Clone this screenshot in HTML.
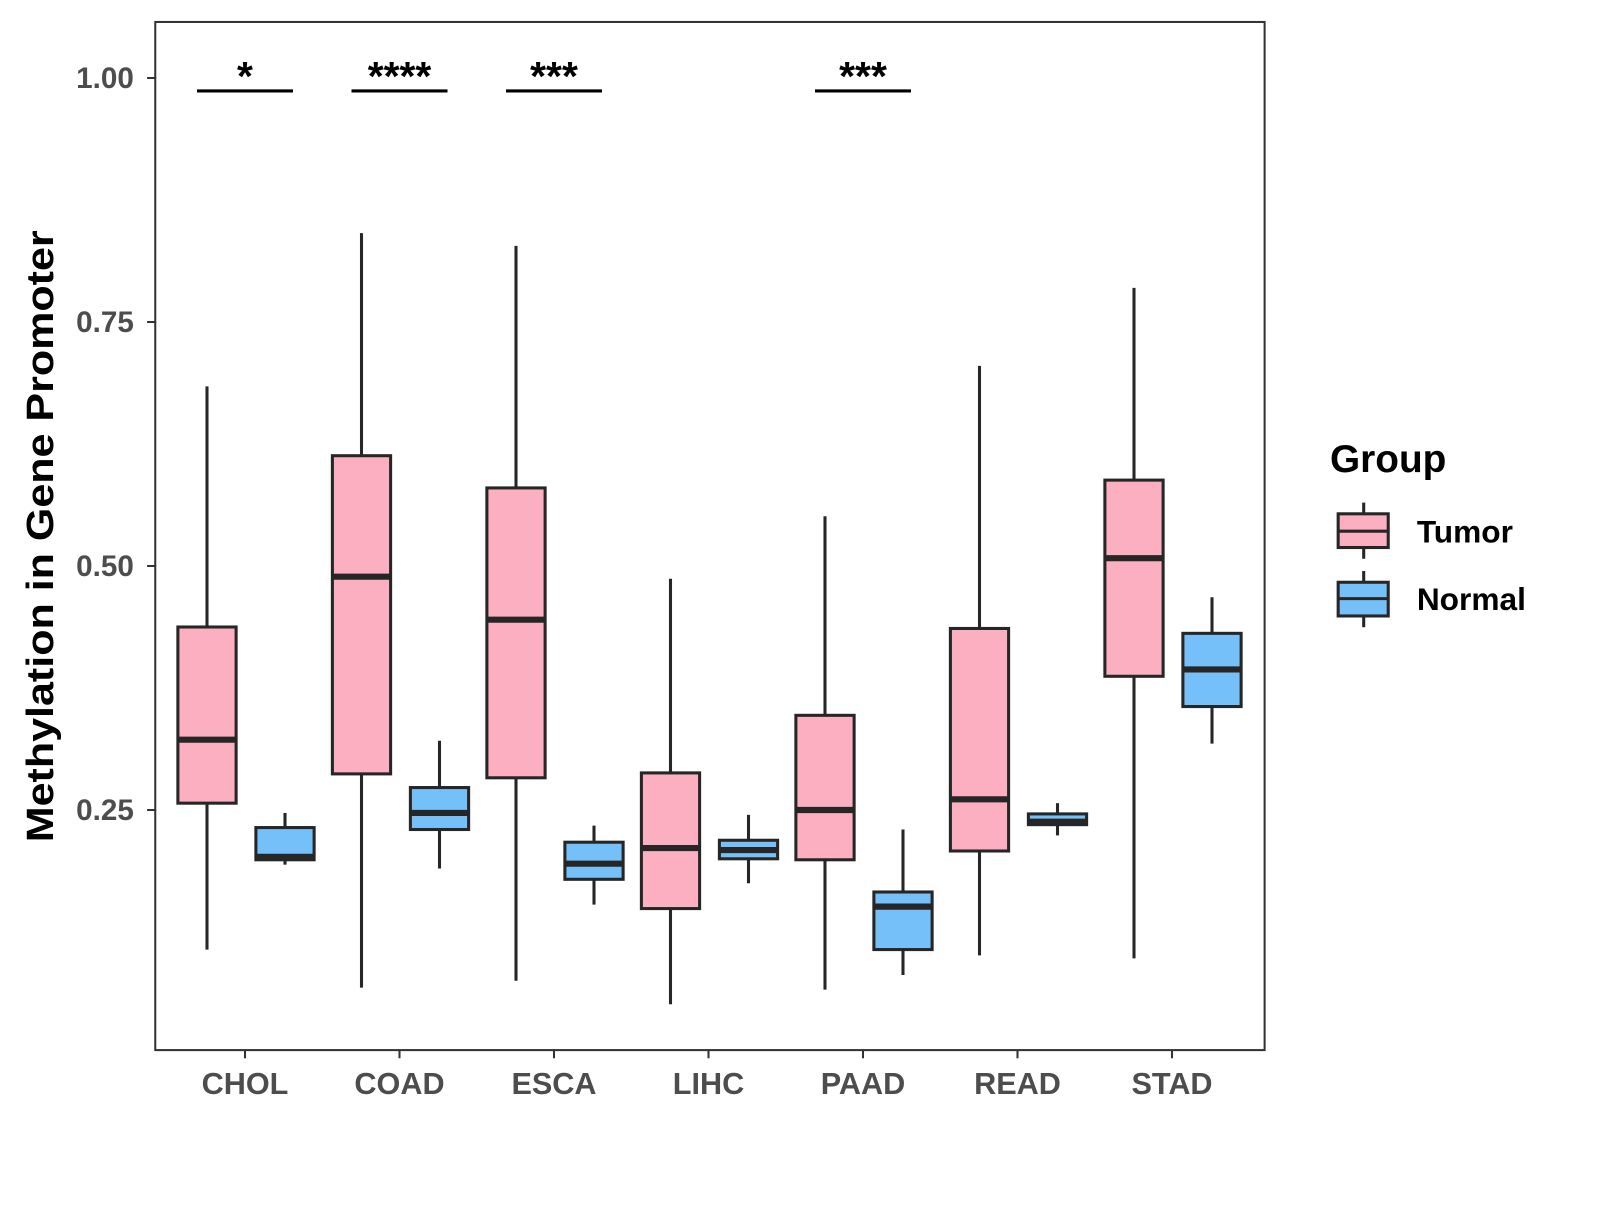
<!DOCTYPE html>
<html><head><meta charset="utf-8"><style>
body{margin:0;background:#fff;}
svg text{font-family:"Liberation Sans",Arial,sans-serif;font-weight:bold;}
</style></head><body>
<svg id="chart" width="1600" height="1200" viewBox="0 0 1600 1200" xmlns="http://www.w3.org/2000/svg">
<rect x="0" y="0" width="1600" height="1200" fill="#fff"/>
<g transform="scale(1.0215)">
<rect x="152" y="21.5" width="1086" height="1006.5" fill="none" stroke="#333" stroke-width="2"/>
<g id="marks"></g>
<text transform="translate(52,525) rotate(-90)" text-anchor="middle" font-size="37" textLength="599" lengthAdjust="spacingAndGlyphs" fill="#000">Methylation in Gene Promoter</text>
<text x="1302" y="462" font-size="38" fill="#000">Group</text>
<g>
<line x1="1335" y1="492" x2="1335" y2="547" stroke="#262626" stroke-width="3"/>
<rect x="1310" y="503" width="49" height="33" fill="#FBAFC1" stroke="#262626" stroke-width="3"/>
<line x1="1310" y1="520" x2="1359" y2="520" stroke="#262626" stroke-width="3"/>
<text x="1387" y="531" font-size="31" fill="#000">Tumor</text>
</g>
<g>
<line x1="1335" y1="559" x2="1335" y2="614" stroke="#262626" stroke-width="3"/>
<rect x="1310" y="570" width="49" height="33" fill="#75C0F8" stroke="#262626" stroke-width="3"/>
<line x1="1310" y1="586" x2="1359" y2="586" stroke="#262626" stroke-width="3"/>
<text x="1387" y="597" font-size="31" fill="#000">Normal</text>
</g>
</g>
</svg>
<script>
const categories=["CHOL","COAD","ESCA","LIHC","PAAD","READ","STAD"];
const tumorLow=[0.107,0.068,0.075,0.051,0.066,0.101,0.098];
const tumorQ1=[0.257,0.287,0.283,0.149,0.199,0.208,0.387];
const tumorMed=[0.322,0.489,0.445,0.211,0.250,0.261,0.508];
const tumorQ3=[0.4375,0.613,0.580,0.288,0.347,0.436,0.588];
const tumorHigh=[0.684,0.841,0.828,0.487,0.551,0.705,0.785];
const normalLow=[0.194,0.190,0.153,0.175,0.081,0.224,0.318];
const normalQ1=[0.199,0.230,0.179,0.200,0.107,0.235,0.356];
const normalMed=[0.202,0.247,0.195,0.209,0.151,0.238,0.394];
const normalQ3=[0.232,0.273,0.217,0.219,0.166,0.246,0.431];
const normalHigh=[0.247,0.321,0.234,0.245,0.230,0.257,0.468];
const sigLabels=["*","****","***","","***","",""];
const yTicks=[0.25,0.50,0.75,1.00];
const yTickLabels=["0.25","0.50","0.75","1.00"];

const NS="http://www.w3.org/2000/svg";
const g=document.getElementById("marks");
const S=1/1.0215;
function y(v){return (78+(1-v)*976)*S;}
function xc(i){return (245+i*154.5)*S;}
function mk(tag,attrs,parent){const e=document.createElementNS(NS,tag);for(const k in attrs)e.setAttribute(k,attrs[k]);(parent||g).appendChild(e);return e;}

yTicks.forEach((t,i)=>{
  const l=mk("line",{x1:144,x2:152,y1:y(t),y2:y(t),stroke:"#333","stroke-width":2});
  
  
  const tx=mk("text",{x:131,y:y(t)+10,"text-anchor":"end","font-size":29,fill:"#4d4d4d"});
  tx.textContent=yTickLabels[i];
  
  
});
categories.forEach((c,i)=>{
  const x=xc(i);
  const l=mk("line",{x1:x,x2:x,y1:1028,y2:1036,stroke:"#333","stroke-width":2});
  
  
  const tx=mk("text",{x:x,y:1071,"text-anchor":"middle","font-size":30,fill:"#4d4d4d"});
  tx.textContent=c;
  
  
});
function box(cx,lo,q1,md,q3,hi,fill,name){
  const grp=mk("g",{});
  
  
  mk("line",{x1:cx,x2:cx,y1:y(hi),y2:y(lo),stroke:"#262626","stroke-width":3},grp);
  mk("rect",{x:cx-28.5,y:y(q3),width:57,height:y(q1)-y(q3),fill:fill,stroke:"#262626","stroke-width":3},grp);
  mk("line",{x1:cx-28.5,x2:cx+28.5,y1:y(md),y2:y(md),stroke:"#262626","stroke-width":6},grp);
}
categories.forEach((c,i)=>{
  box(xc(i)-38*S,tumorLow[i],tumorQ1[i],tumorMed[i],tumorQ3[i],tumorHigh[i],"#FBAFC1","box-tumor-"+c.toLowerCase());
  box(xc(i)+40*S,normalLow[i],normalQ1[i],normalMed[i],normalQ3[i],normalHigh[i],"#75C0F8","box-normal-"+c.toLowerCase());
  if(sigLabels[i]){
    const l=mk("line",{x1:xc(i)-47,x2:xc(i)+47,y1:89,y2:89,stroke:"#000","stroke-width":3});
    
    
    const t=mk("text",{x:xc(i),y:88,"text-anchor":"middle","font-size":40,fill:"#000"});
    t.textContent=sigLabels[i];
    
    
  }
});
</script>
</body></html>
